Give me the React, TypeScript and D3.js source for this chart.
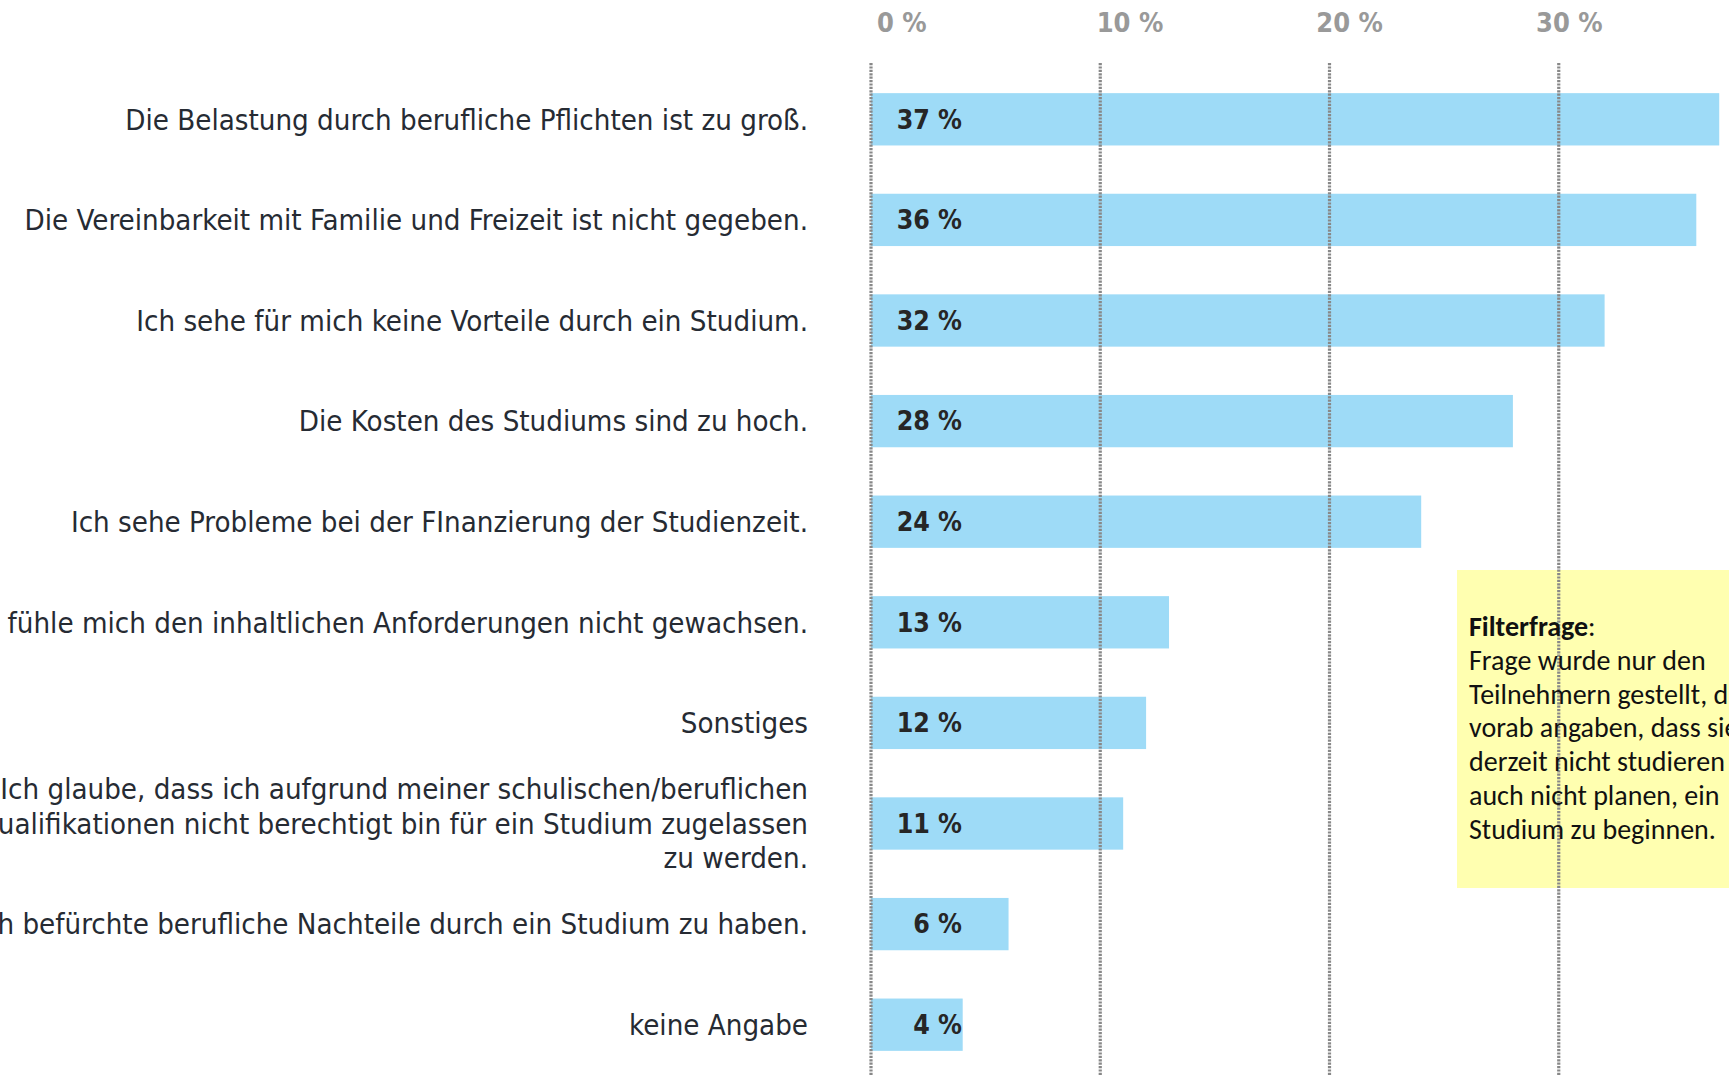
import React from "react";
import { scaleLinear, scaleBand } from "d3";

const categories = [
  "Die Belastung durch berufliche Pflichten ist zu groß.",
  "Die Vereinbarkeit mit Familie und Freizeit ist nicht gegeben.",
  "Ich sehe für mich keine Vorteile durch ein Studium.",
  "Die Kosten des Studiums sind zu hoch.",
  "Ich sehe Probleme bei der FInanzierung der Studienzeit.",
  "Ich fühle mich den inhaltlichen Anforderungen nicht gewachsen.",
  "Sonstiges",
  "Ich glaube, dass ich aufgrund meiner schulischen/beruflichen\nQualifikationen nicht berechtigt bin für ein Studium zugelassen\nzu werden.",
  "Ich befürchte berufliche Nachteile durch ein Studium zu haben.",
  "keine Angabe",
];
const values = [37, 36, 32, 28, 24, 13, 12, 11, 6, 4];
const ticks = [0, 10, 20, 30];
const noteTitle = "Filterfrage";
const noteLines = [
  "Frage wurde nur den",
  "Teilnehmern gestellt, die",
  "vorab angaben, dass sie",
  "derzeit nicht studieren und",
  "auch nicht planen, ein",
  "Studium zu beginnen.",
];

const W = 1729;
const H = 1076;
const labelFont = "'Liberation Sans Narrow', 'DejaVu Sans Condensed', Roboto, sans-serif";
const noteFont = "Carlito, Lato, 'Open Sans', sans-serif";

const App = () => {
  const x = scaleLinear().domain([0, 40]).range([871, 1788]);
  // the tick captions sit on a slightly tighter spacing than the grid
  const xTick = scaleLinear().domain([0, 30]).range([877, 1536]);
  const y = scaleBand<number>()
    .domain(values.map((v, i) => i))
    .range([69, 1075])
    .paddingInner(0.48)
    .paddingOuter(0.24);

  const lineH = 34.7;

  return (
    <svg width={W} height={H} style={{ position: "absolute", left: 0, top: 0, background: "#fff" }}>
      {/* bars */}
      {values.map((v, i) => (
        <rect
          key={"b" + i}
          x={x(0)}
          y={y(i)}
          width={x(v) - x(0)}
          height={y.bandwidth()}
          fill="#9edbf7"
        />
      ))}

      {/* note box */}
      <rect x={1457} y={570} width={W - 1457} height={318} fill="#ffffb0" />

      {/* grid */}
      {ticks.map(t => (
        <line
          key={"g" + t}
          x1={x(t)}
          x2={x(t)}
          y1={63}
          y2={H}
          stroke="#888"
          strokeWidth={3.2}
          strokeDasharray="2.2 1.2"
        />
      ))}

      {/* tick labels */}
      {ticks.map(t => (
        <text
          key={"t" + t}
          x={xTick(t)}
          y={32}
          fontFamily={labelFont}
          fontSize={27}
          fontWeight="bold"
          fill="#999"
        >
          {t} %
        </text>
      ))}

      {/* value labels */}
      {values.map((v, i) => (
        <text
          key={"v" + i}
          x={962}
          y={(y(i) as number) + y.bandwidth() / 2}
          dy="0.35em"
          textAnchor="end"
          fontFamily={labelFont}
          fontSize={26.5}
          fontWeight="bold"
          fill="#262626"
        >
          {v} %
        </text>
      ))}

      {/* category labels */}
      {categories.map((c, i) => {
        const lines = c.split("\n");
        const cy = (y(i) as number) + y.bandwidth() / 2 - ((lines.length - 1) * lineH) / 2;
        return (
          <text
            key={"c" + i}
            textAnchor="end"
            fontFamily={labelFont}
            fontSize={29.2}
            fill="#262b33"
          >
            {lines.map((l, j) => (
              <tspan key={j} x={808} y={cy + j * lineH} dy="0.35em">
                {l}
              </tspan>
            ))}
          </text>
        );
      })}

      {/* note text */}
      <text fontFamily={noteFont} fontSize={28} fill="#111">
        <tspan x={1469} y={636}>
          <tspan fontWeight="bold">{noteTitle}</tspan>:
        </tspan>
        {noteLines.map((l, j) => (
          <tspan key={j} x={1469} y={636 + (j + 1) * 33.8}>
            {l}
          </tspan>
        ))}
      </text>
    </svg>
  );
};

export default App;
